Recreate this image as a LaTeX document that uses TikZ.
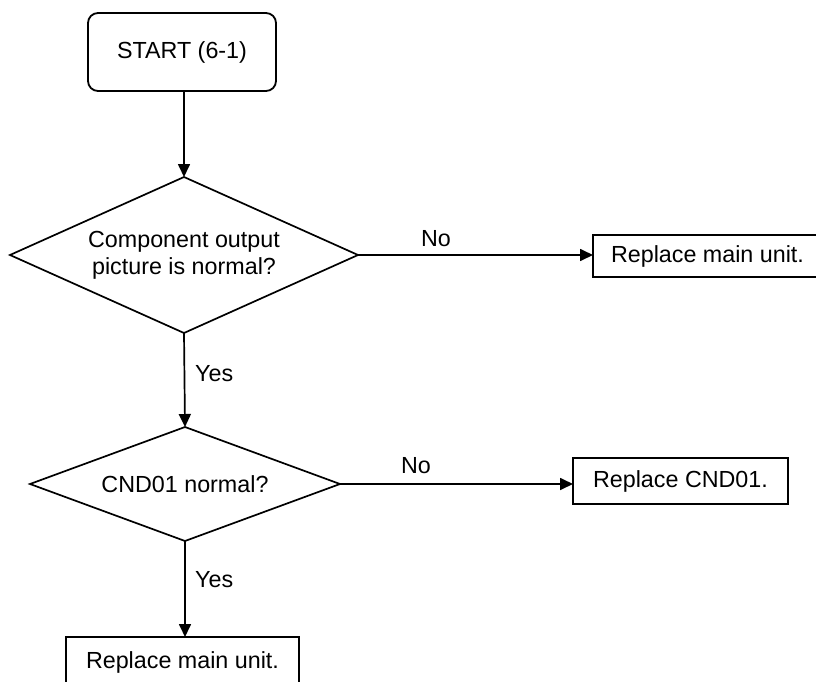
\documentclass[tikz,border=0pt]{standalone}
\usepackage{fontspec}
\setmainfont{Liberation Sans}
\usetikzlibrary{shapes.geometric,arrows.meta}
\begin{document}
\begin{tikzpicture}[x=1pt,y=-1pt,
  every node/.style={font=\fontsize{23.3}{27}\selectfont},
  startbox/.style={draw,line width=1.8pt,rounded corners=10pt,inner sep=0pt,outer sep=0pt},
  actbox/.style={draw,line width=1.9pt,inner sep=0pt,outer sep=0pt},
  decbox/.style={draw,diamond,aspect=2.2,line width=1.7pt,inner sep=0pt,outer sep=0pt,align=center},
  lbl/.style={inner sep=0pt},
  flow/.style={line width=1.7pt,-{Triangle[length=13pt,width=12pt]}}]
\useasboundingbox (0,0) rectangle (816,682);
\clip (0,0) rectangle (816,682);
\node[startbox,minimum width=188pt,minimum height=78pt] (start) at (182,52) {START (6-1)};
\node[decbox,minimum width=348pt,minimum height=156pt] (d1) at (184,255) {Component output\\picture is normal?};
\node[actbox,minimum width=229pt,minimum height=42pt] (b1) at (707.5,256) {Replace main unit.};
\node[decbox,minimum width=310pt,minimum height=114pt] (d2) at (185,484) {CND01 normal?};
\node[actbox,minimum width=215pt,minimum height=46pt] (b2) at (680.5,481) {Replace CND01.};
\node[actbox,minimum width=233pt,minimum height=50pt] (b3) at (182.5,662) {Replace main unit.};
\draw[flow] (start.south -| d1.north) -- (d1.north);
\draw[flow] (d1.east) -- (d1.east -| b1.west);
\draw[flow] (d1.south) -- (d2.north);
\draw[flow] (d2.east) -- (d2.east -| b2.west);
\draw[flow] (d2.south) -- (d2.south |- b3.north);
\node[lbl] (no1) at (436,239) {No};
\node[lbl] (no2) at (416,466) {No};
\node[lbl,anchor=west] (yes1) at (195,374) {Yes};
\node[lbl,anchor=west] (yes2) at (195,580) {Yes};
\end{tikzpicture}
\end{document}
